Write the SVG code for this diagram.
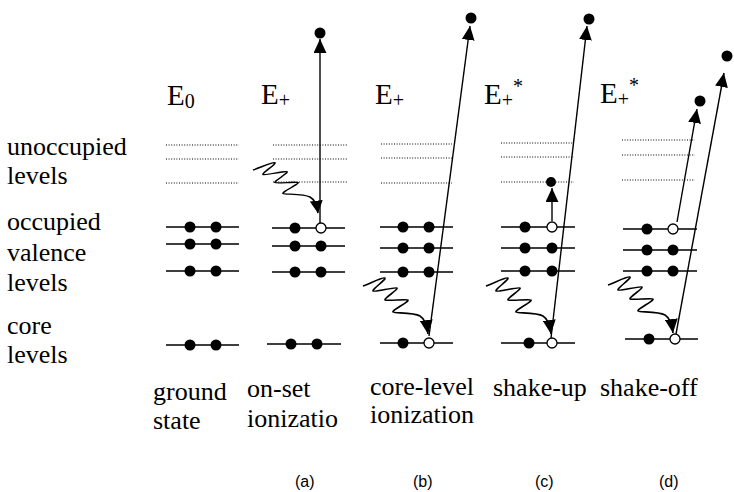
<svg xmlns="http://www.w3.org/2000/svg" width="734" height="492" viewBox="0 0 734 492">
<style>
.lvl{stroke:#000;stroke-width:1.5;fill:none}
.un{stroke:#000;stroke-width:1;stroke-dasharray:1 1.6;fill:none}
.dot{fill:#000}
.hole{fill:#fff;stroke:#000;stroke-width:1.3}
.ar{stroke:#000;stroke-width:1.4;fill:none;marker-end:url(#ah)}
.ph{stroke:#000;stroke-width:1.6;fill:none;marker-end:url(#ah)}
.sf{font-family:"Liberation Serif","Times New Roman",serif;fill:#000}
.ss{font-family:"Liberation Sans",Arial,sans-serif;fill:#000;font-size:16px}
</style>
<defs>
<marker id="ah" markerUnits="userSpaceOnUse" markerWidth="14" markerHeight="13" viewBox="0 0 13 12" refX="13" refY="6" orient="auto">
<path d="M0,0 L13,6 L0,12 z" fill="#000"/>
</marker>
<path id="wave" d="M0,0 C8,-3 20.6,-9.4 22,-8 C23.4,-6.6 8.6,3.6 10,5 C11.4,6.4 32.6,0.6 34,2 C35.4,3.4 20.6,12.6 22,14 C23.4,15.4 43.6,12.6 45,14 C46.4,15.4 28.6,24.6 30,26 C31.4,27.4 50,26 57,30 C62,33 64,40 65,48"/>
</defs>

<g id="row-labels" class="sf" font-size="26">
<text x="7" y="155">unoccupied</text>
<text x="7" y="184">levels</text>
<text x="7" y="230">occupied</text>
<text x="7" y="261">valence</text>
<text x="7" y="291">levels</text>
<text x="7" y="334">core</text>
<text x="7" y="363">levels</text>
</g>

<g id="col-ground">
<text class="sf" x="167" y="105" font-size="29">E<tspan font-size="20" dy="3">0</tspan></text>
<path class="un" d="M166,145H239M166,159H239M166,183H239"/>
<path class="lvl" d="M166,227H239M166,244H239M166,271H239M166,345H239"/>
<circle class="dot" cx="190" cy="227" r="5.5"/><circle class="dot" cx="216" cy="227" r="5.5"/>
<circle class="dot" cx="190" cy="244" r="5.5"/><circle class="dot" cx="216" cy="244" r="5.5"/>
<circle class="dot" cx="190" cy="271" r="5.5"/><circle class="dot" cx="216" cy="271" r="5.5"/>
<circle class="dot" cx="190" cy="345" r="5.5"/><circle class="dot" cx="216" cy="345" r="5.5"/>
<text class="sf" x="153" y="400" font-size="26">ground</text>
<text class="sf" x="153" y="429" font-size="26">state</text>
</g>

<g id="col-a">
<text class="sf" x="261" y="104" font-size="29">E<tspan font-size="20" dy="3">+</tspan></text>
<path class="un" d="M273,145H347M273,159H347M273,182H347"/>
<path class="lvl" d="M272,228H345M272,246H345M272,272H345M267,344H341"/>
<circle class="dot" cx="295" cy="228" r="5.5"/><circle class="hole" cx="321" cy="228" r="5"/>
<circle class="dot" cx="295" cy="246" r="5.5"/><circle class="dot" cx="321" cy="246" r="5.5"/>
<circle class="dot" cx="295" cy="272" r="5.5"/><circle class="dot" cx="321" cy="272" r="5.5"/>
<circle class="dot" cx="291" cy="344" r="5.5"/><circle class="dot" cx="317" cy="344" r="5.5"/>
<circle class="dot" cx="320" cy="33" r="5.5"/>
<text class="sf" x="247" y="397" font-size="26">on-set</text>
<text class="sf" x="247" y="427" font-size="26">ionizatio</text>
<text class="ss" x="295" y="487">(a)</text>
</g>

<g id="col-b">
<text class="sf" x="375" y="104" font-size="29">E<tspan font-size="20" dy="3">+</tspan></text>
<path class="un" d="M381,144H452M381,158H452M381,183H452"/>
<path class="lvl" d="M380,227H453M380,248H453M380,272H453M380,343H453"/>
<circle class="dot" cx="403" cy="227" r="5.5"/><circle class="dot" cx="429" cy="227" r="5.5"/>
<circle class="dot" cx="403" cy="248" r="5.5"/><circle class="dot" cx="429" cy="248" r="5.5"/>
<circle class="dot" cx="403" cy="272" r="5.5"/><circle class="dot" cx="429" cy="272" r="5.5"/>
<circle class="dot" cx="403" cy="343" r="5.5"/><circle class="hole" cx="429" cy="343" r="5"/>
<circle class="dot" cx="471" cy="18" r="5.5"/>
<text class="sf" x="370" y="395" font-size="26">core-level</text>
<text class="sf" x="370" y="423" font-size="26">ionization</text>
<text class="ss" x="413" y="487">(b)</text>
</g>

<g id="col-c">
<text class="sf" x="484" y="104" font-size="29">E<tspan font-size="20" dy="3">+</tspan><tspan font-size="20" dy="-14">*</tspan></text>
<path class="un" d="M501,143H574M501,157H574M501,182H574"/>
<path class="lvl" d="M501,227H575M501,248H575M501,271H575M501,343H575"/>
<circle class="dot" cx="525" cy="227" r="5.5"/><circle class="hole" cx="552" cy="227" r="5"/>
<circle class="dot" cx="525" cy="248" r="5.5"/><circle class="dot" cx="552" cy="248" r="5.5"/>
<circle class="dot" cx="525" cy="271" r="5.5"/><circle class="dot" cx="552" cy="271" r="5.5"/>
<circle class="dot" cx="529" cy="343" r="5.5"/><circle class="hole" cx="552" cy="343" r="5"/>
<circle class="dot" cx="551" cy="182" r="5"/>
<circle class="dot" cx="589" cy="19" r="5.5"/>
<text class="sf" x="493" y="396" font-size="26">shake-up</text>
<text class="ss" x="535" y="487">(c)</text>
</g>

<g id="col-d">
<text class="sf" x="600" y="103" font-size="29">E<tspan font-size="20" dy="3">+</tspan><tspan font-size="20" dy="-14">*</tspan></text>
<path class="un" d="M622,140H695M622,155H695M622,180H695"/>
<path class="lvl" d="M623,229H697M623,250H697M623,271H697M625,339H698"/>
<circle class="dot" cx="647" cy="229" r="5.5"/><circle class="hole" cx="673" cy="229" r="5"/>
<circle class="dot" cx="647" cy="250" r="5.5"/><circle class="dot" cx="673" cy="250" r="5.5"/>
<circle class="dot" cx="647" cy="271" r="5.5"/><circle class="dot" cx="673" cy="271" r="5.5"/>
<circle class="dot" cx="649" cy="339" r="5.5"/><circle class="hole" cx="675" cy="339" r="5"/>
<circle class="dot" cx="700" cy="101" r="5.5"/>
<circle class="dot" cx="727" cy="56" r="5.5"/>
<text class="sf" x="600" y="396" font-size="26">shake-off</text>
<text class="ss" x="659" y="487">(d)</text>
</g>

<g id="connectors">
<path class="ar" d="M320,223 L320,39"/>
<path class="ar" d="M429,336 L470,26"/>
<path class="ar" d="M551,338 L587,26"/>
<path class="ar" d="M552,221 L552,188"/>
<path class="ar" d="M677,222 L697,109"/>
<path class="ar" d="M676,334 L724,73"/>
<use href="#wave" class="ph" transform="translate(253,170) scale(1,0.9)"/>
<use href="#wave" class="ph" transform="translate(363,286)"/>
<use href="#wave" class="ph" transform="translate(486,286)"/>
<use href="#wave" class="ph" transform="translate(608,285)"/>
</g>
</svg>
